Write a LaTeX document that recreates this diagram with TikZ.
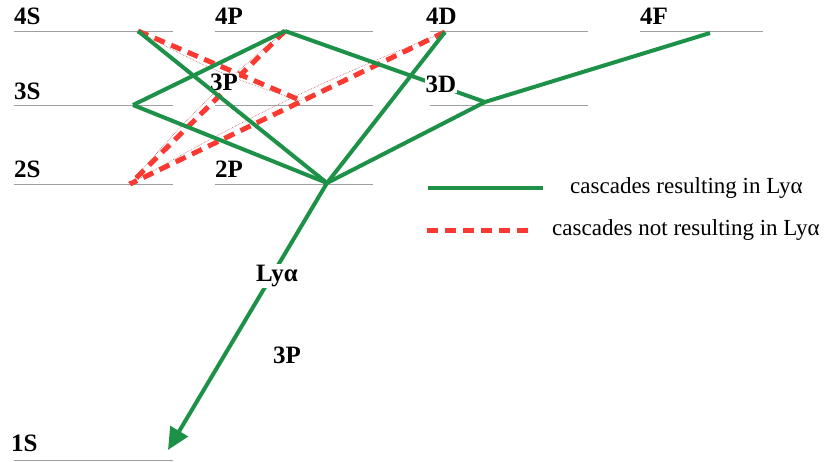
\documentclass[tikz,border=0pt]{standalone}
\usepackage{fontspec}
\setmainfont{Liberation Serif}
\usetikzlibrary{arrows.meta}
\definecolor{cascgreen}{RGB}{30,145,72}
\definecolor{cascred}{RGB}{250,58,50}

\begin{document}
\begin{tikzpicture}[x=1pt, y=-1pt,
    level/.style={draw=gray!75, line width=1pt},
    lvl/.style={font=\bfseries\fontsize{25}{27}\selectfont, anchor=base west, inner sep=0pt},
    yes/.style={draw=cascgreen, line width=4pt},
    nope/.style={draw=cascred, line width=5pt, dash pattern=on 11pt off 7pt},
    ghost/.style={draw=cascred!45!gray, line width=0.6pt, densely dotted},
    tag/.style={font=\bfseries\fontsize{25}{27}\selectfont, fill=white, inner sep=1pt},
    legend/.style={font=\fontsize{23}{25}\selectfont, anchor=west, inner sep=0pt}
]
    \useasboundingbox (0,0) rectangle (829,461);

    % energy levels
    \draw[level] (14,31) -- (173,31);
    \draw[level] (215,31) -- (373,31);
    \draw[level] (430,31) -- (588,31);
    \draw[level] (640,31) -- (763,31);
    \draw[level] (14,105) -- (173,105);
    \draw[level] (215,105) -- (373,105);
    \draw[level] (430,105) -- (588,105);
    \draw[level] (14,184) -- (173,184);
    \draw[level] (215,184) -- (373,184);
    \draw[level] (14,460) -- (173,460);

    \node[lvl] (l4s) at (14,24) {4S};
    \node[lvl] (l4p) at (215,24) {4P};
    \node[lvl] (l4d) at (426,24) {4D};
    \node[lvl] (l4f) at (640,24) {4F};
    \node[lvl] (l3s) at (14,99) {3S};
    \node[lvl] (l2s) at (14,177) {2S};
    \node[lvl] (l2p) at (215,177) {2P};
    \node[lvl] (l1s) at (11,451) {1S};

    % states
    \coordinate (s4) at (138,31);
    \coordinate (p4) at (285,31);
    \coordinate (d4) at (445,32);
    \coordinate (f4) at (710,33);
    \coordinate (s3) at (133,105);
    \coordinate (p3) at (302,101);
    \coordinate (d3) at (485,102);
    \coordinate (s2) at (130,184);
    \coordinate (p2) at (327,183);
    \coordinate (s1) at (168,450);

    % cascades without Ly-alpha
    \draw[ghost] (s4) to[bend right=6] (p3);
    \draw[ghost] (s2) to[bend left=5] (p4);
    \draw[ghost] (s2) to[bend left=4] (d4);
    \draw[nope] (s4) -- (p3);
    \draw[nope] (p4) -- (s2);
    \draw[nope] (d4) -- (s2);

    \node[tag] (t3p) at (224,82) {3P};

    % cascades with Ly-alpha
    \draw[yes] (s4) -- (p2);
    \draw[yes] (p4) -- (s3);
    \draw[yes] (s3) -- (p2);
    \draw[yes] (p4) -- (d3);
    \draw[yes] (d3) -- (f4);
    \draw[yes] (d3) -- (p2);
    \draw[yes] (d4) -- (p2);
    \draw[yes, -{Triangle[length=22pt, width=20pt]}] (p2) -- (s1);

    \node[tag] (t3d) at (441,84) {3D};
    \node[tag] (lya) at (277,276) {Lyα};
    \node[tag, fill=none] (t3pb) at (287,355) {3P};

    % legend
    \node[legend] (keyyes) at (570,188) {cascades resulting in Lyα};
    \node[legend] (keyno) at (552,230) {cascades not resulting in Lyα};
    \draw[yes] ([xshift=-142pt]keyyes.west) -- ([xshift=-27pt]keyyes.west);
    \draw[nope] ([xshift=-125pt]keyno.west) -- ([xshift=-17pt]keyno.west);
\end{tikzpicture}
\end{document}
